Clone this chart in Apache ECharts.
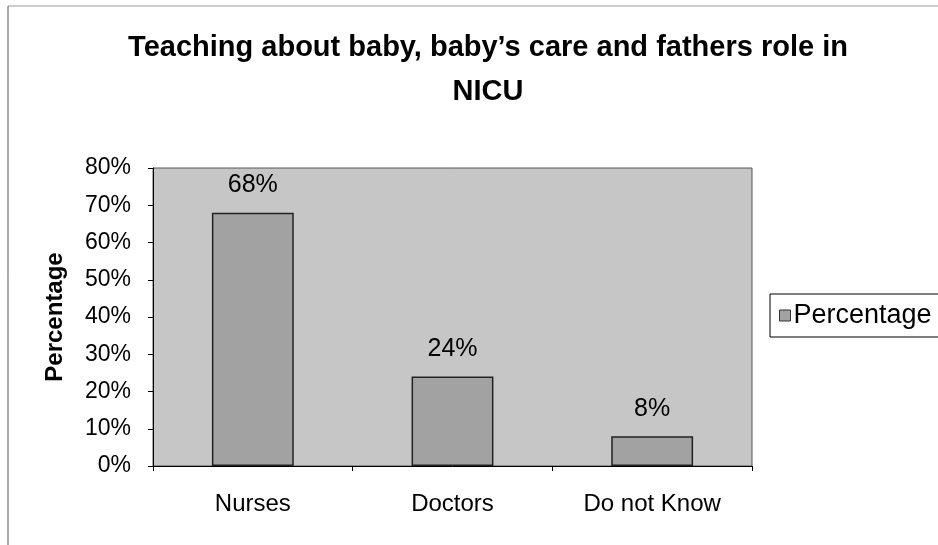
<!DOCTYPE html>
<html>
<head>
<meta charset="utf-8">
<script src="https://cdn.jsdelivr.net/npm/echarts@6/dist/echarts.min.js"></script>
<style>
  html, body { margin: 0; padding: 0; background: #fff; }
  #chart { width: 938px; height: 545px; }
</style>
</head>
<body>
<div id="chart"></div>
<script>
  // data
  var categories = ['Nurses', 'Doctors', 'Do not Know'];
  var percentages = [68, 24, 8];
  var yTicks = [0, 10, 20, 30, 40, 50, 60, 70, 80];

  var font = 'Liberation Sans, Arial';
  var myChart = echarts.init(document.getElementById('chart'));
  myChart.setOption({
    animation: false,
    title: {
      text: 'Teaching about baby, baby\u2019s care and fathers role in\nNICU',
      left: 483,
      top: 21,
      textAlign: 'center',
      textStyle: {
        fontFamily: font,
        fontWeight: 'bold',
        fontSize: 29,
        lineHeight: 44,
        color: '#000'
      }
    },
    legend: {
      data: ['Percentage'],
      left: 770,
      top: 294,
      orient: 'vertical',
      itemWidth: 11,
      itemHeight: 11,
      itemGap: 4,
      padding: [8, 9, 8, 9],
      borderColor: '#000',
      borderWidth: 1,
      icon: 'rect',
      itemStyle: { borderColor: '#333', borderWidth: 1 },
      textStyle: {
        fontFamily: font,
        fontSize: 27,
        padding: [0, 0, 0, -2],
        color: '#000'
      }
    },
    grid: {
      left: 153,
      top: 168,
      width: 599,
      height: 298,
      show: true,
      backgroundColor: '#c6c6c6',
      borderColor: '#555',
      borderWidth: 1
    },
    xAxis: {
      type: 'category',
      data: categories,
      axisLine: { lineStyle: { color: '#000', width: 1 } },
      axisTick: { show: true, alignWithLabel: false, length: 5, lineStyle: { color: '#000' } },
      axisLabel: {
        margin: 26,
        fontFamily: font,
        fontSize: 24,
        color: '#000'
      }
    },
    yAxis: {
      type: 'value',
      min: yTicks[0],
      max: yTicks[yTicks.length - 1],
      interval: 10,
      name: 'Percentage',
      nameLocation: 'middle',
      nameGap: 86,
      nameTextStyle: {
        fontFamily: font,
        fontWeight: 'bold',
        fontSize: 24,
        color: '#000'
      },
      axisLine: { show: true, lineStyle: { color: '#000', width: 1 } },
      axisTick: { show: true, length: 5, inside: false, lineStyle: { color: '#000' } },
      splitLine: { show: false },
      axisLabel: {
        formatter: '{value}%',
        margin: 22,
        fontFamily: font,
        fontSize: 23,
        color: '#000'
      }
    },
    series: [{
      name: 'Percentage',
      type: 'bar',
      data: percentages,
      barWidth: '41%',
      itemStyle: {
        color: '#a2a2a2',
        borderColor: '#222',
        borderWidth: 1.5
      },
      label: {
        show: true,
        position: 'top',
        distance: 15,
        formatter: '{c}%',
        fontFamily: font,
        fontSize: 25,
        color: '#000'
      }
    }],
    graphic: [
      { type: 'line', shape: { x1: 8, y1: 6, x2: 938, y2: 6 }, style: { stroke: '#999', lineWidth: 1 } },
      { type: 'line', shape: { x1: 8, y1: 6, x2: 8, y2: 545 }, style: { stroke: '#555', lineWidth: 1 } }
    ]
  });
</script>
</body>
</html>
